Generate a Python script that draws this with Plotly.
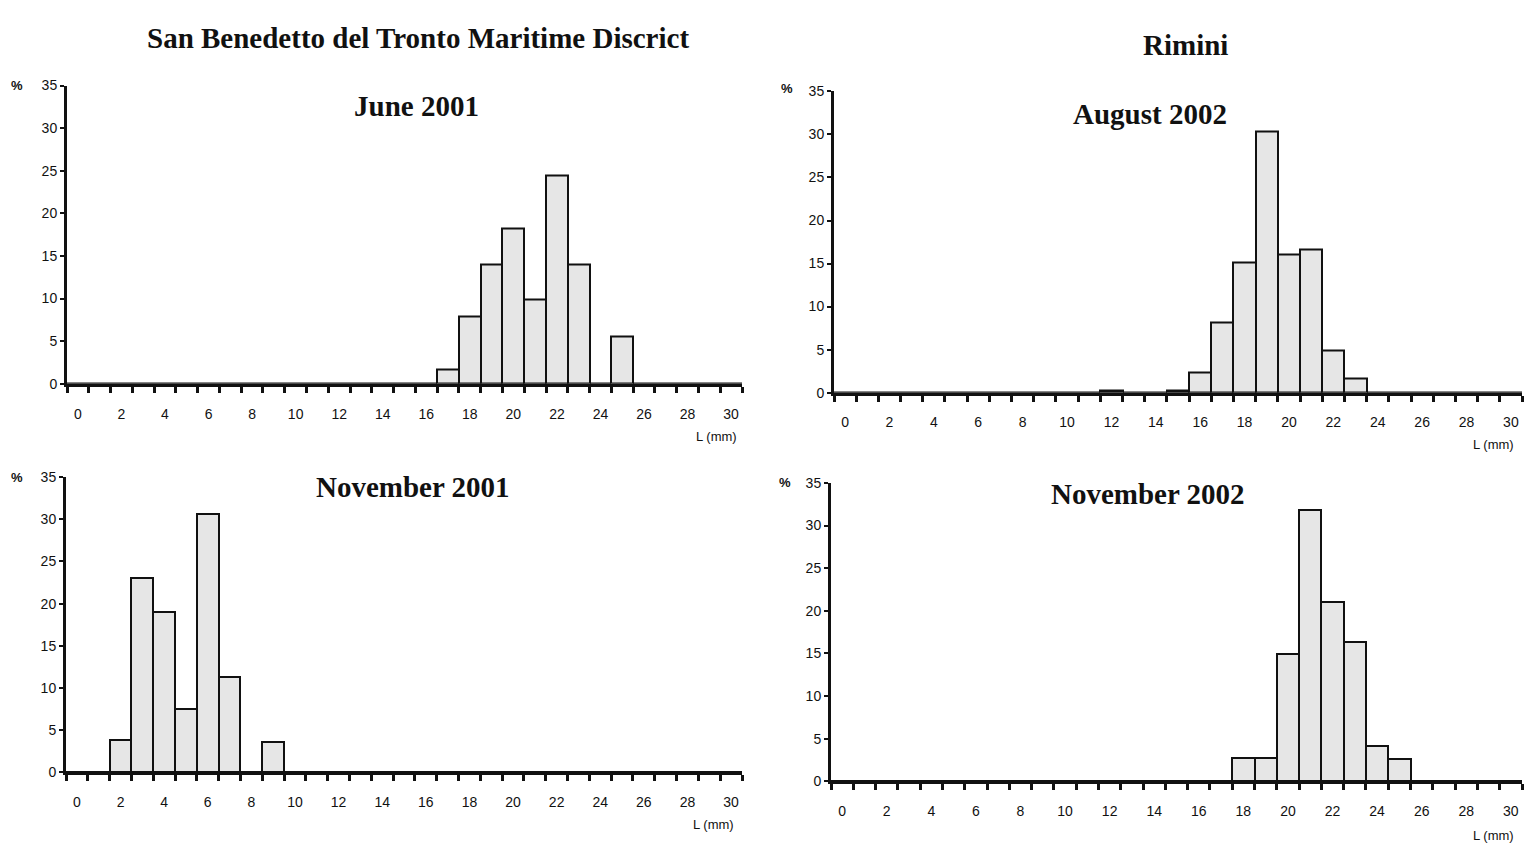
import plotly.graph_objects as go

# ---------------- data ----------------
length_bins = list(range(31))                      # L (mm) classes 0..30
x_tick_values = list(range(0, 31, 2))
x_tick_labels = [str(v) for v in x_tick_values]
y_tick_values = [0, 5, 10, 15, 20, 25, 30, 35]
y_tick_labels = [str(v) for v in y_tick_values]

june_2001 = [0] * 17 + [1.7, 7.9, 14.0, 18.2, 9.9, 24.4, 14.0, 0, 5.5] + [0] * 5
november_2001 = [0, 0, 3.8, 23.0, 19.0, 7.5, 30.6, 11.3, 0, 3.6] + [0] * 21
august_2002 = [0] * 12 + [0.3, 0, 0, 0.3, 2.3, 8.2, 15.1, 30.3, 16.1, 16.6, 4.9, 1.6] + [0] * 7
november_2002 = [0] * 18 + [2.7, 2.7, 14.9, 31.8, 21.0, 16.3, 4.1, 2.6] + [0] * 5

left_title = "San Benedetto del Tronto Maritime Discrict"
right_title = "Rimini"

W, H = 1528, 853

panels = [
    dict(title="June 2001", values=june_2001, xl=67, xr=742, yb=383, yt=79,
         tx=416, ty=100, pct=(17, 79), lab=(716, 437)),
    dict(title="August 2002", values=august_2002, xl=834, xr=1522, yb=392, yt=85,
         tx=1150, ty=108, pct=(787, 82), lab=(1493, 445)),
    dict(title="November 2001", values=november_2001, xl=66, xr=742, yb=779, yt=478,
         tx=413, ty=488, pct=(17, 478), lab=(713, 832)),
    dict(title="November 2002", values=november_2002, xl=831, xr=1522, yb=788, yt=484,
         tx=1148, ty=495, pct=(785, 484), lab=(1493, 843)),
]

bin_edges = [b - 0.5 for b in length_bins] + [length_bins[-1] + 0.5]

tick_font = dict(family="Liberation Sans, Arial, sans-serif", size=14, color="#111111")
small_font = dict(family="Liberation Sans, Arial, sans-serif", size=13, color="#111111")
title_font = dict(family="Liberation Serif, Times New Roman, serif", size=29, color="#111111")

fig = go.Figure()
annotations = []
layout_axes = {}

for i, p in enumerate(panels, start=1):
    xa = "x" if i == 1 else f"x{i}"
    ya = "y" if i == 1 else f"y{i}"
    fig.add_trace(go.Bar(
        x=length_bins, y=p["values"], width=1,
        marker=dict(color="#e6e6e6", line=dict(color="#111111", width=2)),
        xaxis=xa, yaxis=ya, showlegend=False, hoverinfo="x+y",
    ))
    xkey = "xaxis" if i == 1 else f"xaxis{i}"
    ykey = "yaxis" if i == 1 else f"yaxis{i}"
    layout_axes[xkey] = dict(
        domain=[p["xl"] / W, p["xr"] / W], range=[-0.5, 30.5], anchor=ya,
        showline=True, linecolor="#111111", linewidth=3, showgrid=False, zeroline=False,
        tickmode="array", tickvals=x_tick_values, ticktext=x_tick_labels,
        ticks="outside", ticklen=15, tickcolor="rgba(0,0,0,0)", tickfont=tick_font,
        minor=dict(tickmode="array", tickvals=bin_edges, ticks="outside",
                   ticklen=6, tickwidth=3, tickcolor="#111111", showgrid=False),
        fixedrange=True,
    )
    layout_axes[ykey] = dict(
        domain=[1 - p["yb"] / H, 1 - p["yt"] / H], range=[0, 35], anchor=xa,
        showline=True, linecolor="#111111", linewidth=3, showgrid=False, zeroline=False,
        tickmode="array", tickvals=y_tick_values, ticktext=y_tick_labels,
        ticks="outside", ticklen=4, tickwidth=2, tickcolor="#111111", tickfont=tick_font,
        fixedrange=True,
    )
    annotations.append(dict(text=f"<b>{p['title']}</b>", x=p["tx"] / W, y=1 - p["ty"] / H,
                            xref="paper", yref="paper", showarrow=False, font=title_font,
                            xanchor="center", yanchor="middle"))
    annotations.append(dict(text="<b>%</b>", x=p["pct"][0] / W, y=1 - p["pct"][1] / H,
                            xref="paper", yref="paper", showarrow=False, font=small_font,
                            xanchor="center", yanchor="middle"))
    annotations.append(dict(text="L (mm)", x=p["lab"][0] / W, y=1 - p["lab"][1] / H,
                            xref="paper", yref="paper", showarrow=False, font=small_font,
                            xanchor="center", yanchor="middle"))

annotations.append(dict(text=f"<b>{left_title}</b>", x=418 / W, y=1 - 31 / H,
                        xref="paper", yref="paper", showarrow=False, font=title_font,
                        xanchor="center", yanchor="middle"))
annotations.append(dict(text=f"<b>{right_title}</b>", x=1185 / W, y=1 - 38 / H,
                        xref="paper", yref="paper", showarrow=False, font=title_font,
                        xanchor="center", yanchor="middle"))

fig.update_layout(
    width=W, height=H, autosize=False,
    margin=dict(l=0, r=0, t=0, b=0),
    paper_bgcolor="white", plot_bgcolor="white",
    bargap=0, annotations=annotations, **layout_axes,
)

fig.write_html(
    "out.html",
    config={"displayModeBar": False},
    post_script="document.body.style.margin='0';document.body.style.overflow='hidden';",
)
